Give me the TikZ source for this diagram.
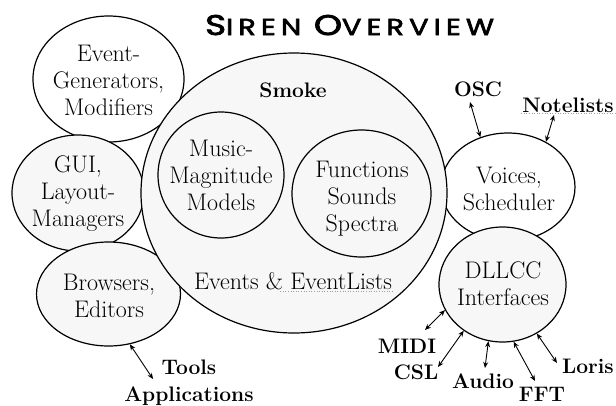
\documentclass[tikz,border=0pt]{standalone}
\usepackage{fontspec}
\newfontfamily\titlefont[LetterSpace=18,FakeBold=2.5]{Poppins}
\usetikzlibrary{shapes.geometric,arrows.meta}
\definecolor{shade}{HTML}{F7F7F7}
\definecolor{squiggle}{HTML}{A0A0A0}
\newcommand\bigletter[1]{{\fontsize{28.5}{30}\selectfont#1}}
\begin{document}
\begin{tikzpicture}[
    x=1pt, y=-1pt,
    blob/.style={ellipse, draw, line width=1.2pt, inner sep=0pt, fill=#1},
    blob/.default=white,
    words/.style={align=center, inner sep=0pt, font=\fontsize{24}{27}\selectfont},
    tag/.style={anchor=base, inner sep=1pt, font=\fontsize{21}{25}\selectfont\bfseries},
    link/.style={{Stealth[length=6pt,width=5pt]}-{Stealth[length=6pt,width=5pt]}, line width=0.9pt},
    spell/.style={squiggle, dotted, line width=0.6pt}
]
\useasboundingbox (0,0) rectangle (616,405);

% title
\node[anchor=base west, inner sep=0pt] (title) at (205,35)
    {\scalebox{1.25}[1]{\titlefont\fontsize{23}{30}\selectfont\bigletter{S}IREN \bigletter{O}VERVIEW}};

% outer circles
\node[blob, minimum width=151pt, minimum height=126pt] (evgen) at (108.5,79) {};
\node[blob=shade, minimum width=132pt, minimum height=116pt] (gui) at (78,193) {};
\node[blob=shade, minimum width=144pt, minimum height=104pt] (browsers) at (108.5,294) {};
\node[blob, minimum width=134pt, minimum height=108pt] (voices) at (508,187) {};
\node[blob=shade, minimum width=127pt, minimum height=115pt] (dllcc) at (502.5,284.5) {};

% Smoke and what sits in it
\node[blob=shade, minimum width=306pt, minimum height=280pt] (smoke) at (294,193) {};
\node[blob=shade, minimum width=126pt, minimum height=126pt] (music) at (221,175) {};
\node[blob=shade, minimum width=139pt, minimum height=127pt] (funcs) at (361.5,193.5) {};

% texts
\node[words] (evgentxt) at (108.5,80) {Event-\\Generators,\\Modifiers};
\node[words] (guitxt) at (78,193.5) {GUI,\\Layout-\\Managers};
\node[words] (browserstxt) at (109,295.5) {Browsers,\\Editors};
\node[words] (musictxt) at (221,175.5) {Music-\\Magnitude\\Models};
\node[words] (funcstxt) at (362,199) {Functions\\Sounds\\Spectra};
\node[words] (voicestxt) at (509,189) {Voices,\\Scheduler};
\node[words] (dllcctxt) at (503,284) {DLLCC\\Interfaces};
\node[tag] (smoketag) at (293,97) {Smoke};
\node[words, anchor=base] (evlists) at (293,289) {Events \& EventLists};

% outside labels
\node[tag] (osc) at (478,96.5) {OSC};
\node[tag] (notelists) at (568,112) {Notelists};
\node[tag] (tools) at (189,374) {Tools};
\node[tag] (apps) at (189,401) {Applications};
\node[tag] (midi) at (407,353) {MIDI};
\node[tag] (csl) at (416,379) {CSL};
\node[tag] (audio) at (483,388) {Audio};
\node[tag] (fft) at (542,401) {FFT};
\node[tag] (loris) at (588,373) {Loris};

% free ends of the arrows
\coordinate (osc-end) at (470,102);
\coordinate (notelists-end) at (554,115);
\coordinate (tools-end) at (153,379);
\coordinate (midi-end) at (425,330);
\coordinate (csl-end) at (438,367);
\coordinate (audio-end) at (485,368);
\coordinate (fft-end) at (535,381);
\coordinate (loris-end) at (557,363);

\draw[link] (osc-end) -- (voices.119);
\draw[link] (notelists-end) -- (voices.50);
\draw[link] (browsers.293) -- (tools-end);
\draw[link] (dllcc.204) -- (midi-end);
\draw[link] (dllcc.230) -- (csl-end);
\draw[link] (dllcc.256) -- (audio-end);
\draw[link] (dllcc.281) -- (fft-end);
\draw[link] (dllcc.305) -- (loris-end);

% dotted spell marks
\draw[spell] ([yshift=-1.5pt]notelists.base west) -- ([yshift=-1.5pt]notelists.base east);
\draw[spell] ([xshift=-112pt,yshift=-2pt]evlists.base east) -- ([yshift=-2pt]evlists.base east);
\end{tikzpicture}
\end{document}
